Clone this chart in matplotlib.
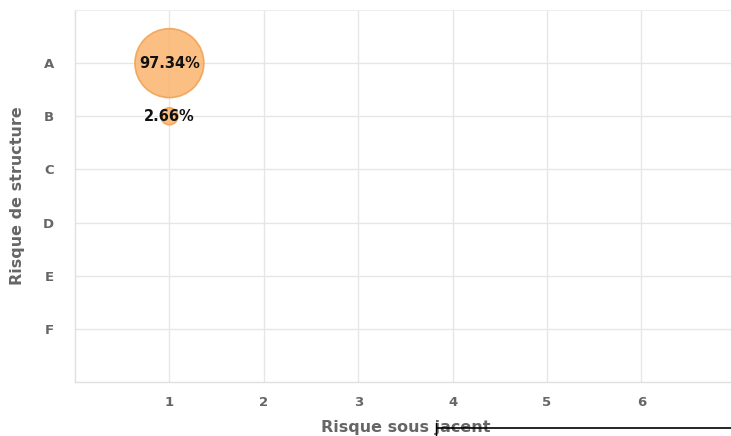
import matplotlib
matplotlib.use("Agg")
import matplotlib.pyplot as plt
from matplotlib.lines import Line2D

categories = ["A", "B", "C", "D", "E", "F"]
x_ticks = [1, 2, 3, 4, 5, 6]
bubble_x = [1, 1]
bubble_y = ["A", "B"]
bubble_values = [97.34, 2.66]
bubble_labels = ["97.34%", "2.66%"]

fig = plt.figure(figsize=(7.31, 4.36), dpi=100)
ax = fig.add_axes([75/731, 1-382/436, (736-75)/731, (382-10)/436])

ypos = {c: i for i, c in enumerate(categories)}
ys = [ypos[c] for c in bubble_y]
# bubble diameter in points grows linearly with value (with a minimum size)
diam_pt = [(15.5 + 0.549*v) * 0.72 for v in bubble_values]
ax.scatter(bubble_x, ys, s=[d**2 for d in diam_pt], color="#fbb46e",
           alpha=0.85, edgecolor="#f0a050", linewidth=1.2, zorder=3)
for x, y, t in zip(bubble_x, ys, bubble_labels):
    ax.text(x, y, t, ha="center", va="center", fontsize=10.5, fontweight="bold",
            color="#111111", zorder=4)

ax.set_xlim(0, (736-75)/94.4)
ax.set_ylim(len(categories), -1)
ax.set_xticks(x_ticks)
ax.set_yticks(range(len(categories)))
ax.set_yticklabels(categories)
ax.grid(True, color="#e6e6e6", linewidth=1.0, zorder=0)
ax.set_axisbelow(True)
for side in ["top", "right"]:
    ax.spines[side].set_color("#eeeeee")
for side in ["left", "bottom"]:
    ax.spines[side].set_color("#e0e0e0")
    ax.spines[side].set_linewidth(1.0)
ax.tick_params(length=0, labelsize=9.5, labelcolor="#666666")
for lbl in ax.get_xticklabels() + ax.get_yticklabels():
    lbl.set_fontweight("bold")
ax.tick_params(axis="x", pad=10)
ax.tick_params(axis="y", pad=15)
ax.set_xlabel("Risque sous jacent", fontsize=11.5, fontweight="bold", color="#666666", labelpad=8)
ax.set_ylabel("Risque de structure", fontsize=11.5, fontweight="bold", color="#666666", labelpad=13)

fig.add_artist(Line2D([437/731, 1.0], [1-428/436, 1-428/436], color="black", linewidth=1.2,
                      transform=fig.transFigure))
fig.add_artist(Line2D([436/731, 436/731], [1-423/436, 1-436/436], color="black", linewidth=1.0,
                      transform=fig.transFigure))

fig.savefig("out.png", dpi=100)
